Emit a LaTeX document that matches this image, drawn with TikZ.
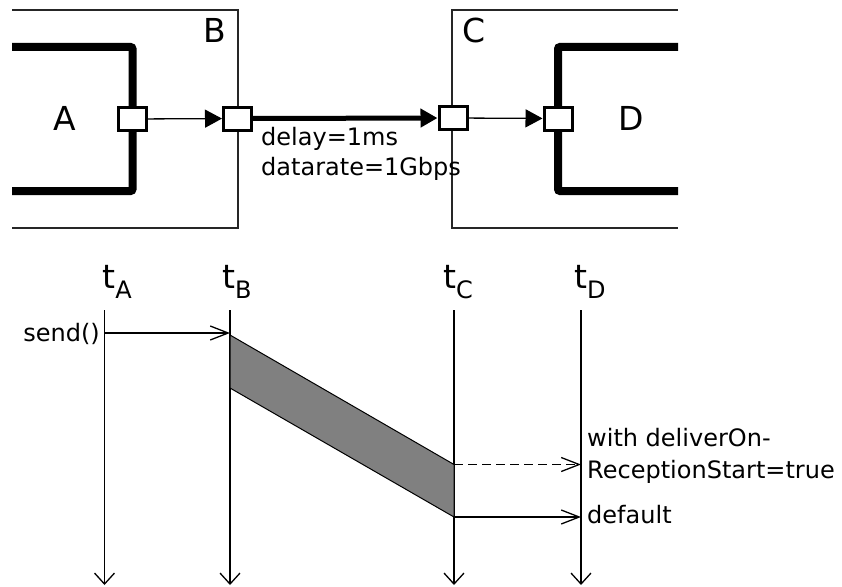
\documentclass[tikz,border=0pt]{standalone}
\usepackage{fontspec}
\setmainfont{DejaVu Sans}
\usetikzlibrary{arrows.meta,positioning,calc}
\newcommand{\lblbig}{\fontsize{33}{40}\selectfont}
\newcommand{\lblsmall}{\fontsize{24}{31}\selectfont}
\tikzset{
  port/.style={draw,line width=3pt,fill=white,minimum width=28pt,minimum height=23pt,inner sep=0pt},
  modwall/.style={line width=8pt,rounded corners=2pt},
  boxwall/.style={line width=1.3pt,draw=black!85},
  link/.style={line width=1.3pt,-{Triangle[length=17pt,width=18pt]}},
  msg/.style={line width=1.3pt,-{Straight Barb[length=18pt,width=14pt]}},
  timeline/.style={line width=1.3pt,-{Straight Barb[length=11pt,width=20pt]}},
}

\begin{document}
\begin{tikzpicture}[x=1pt,y=-1pt]
\useasboundingbox (0,0) rectangle (842,586);
% compound modules B and C
\draw[boxwall] (12,10) -- (238,10) -- (238,228) -- (12,228);
\draw[boxwall] (678,10) -- (452,10) -- (452,228) -- (678,228);
\node[font=\lblbig,anchor=base,inner sep=0] (lblB) at (215,43) {B};
\node[font=\lblbig,anchor=base,inner sep=0] (lblC) at (474,43) {C};
% simple modules A and D
\draw[modwall] (12,47) -- (132.5,47) -- (132.5,191) -- (12,191);
\draw[modwall] (678,47) -- (558,47) -- (558,191) -- (678,191);
\node[font=\lblbig,anchor=base,inner sep=0] (lblA) at (65,130) {A};
\node[font=\lblbig,anchor=base,inner sep=0] (lblD) at (631.5,130) {D};
% gates
\node[port] (pA) at (132.5,119) {};
\node[port] (pB) at (237.5,118.5) {};
\node[port] (pC) at (453,118) {};
\node[port] (pD) at (558,118.5) {};
\draw[link] (pA) -- (pB);
\draw[link,line width=5pt] (pB) -- (pC);
\draw[link] (pC) -- (pD);
\node[font=\lblsmall,anchor=base west,inner sep=0] (chdelay) at (261,145) {delay=1ms};
\node[font=\lblsmall,anchor=base west,inner sep=0] (chrate) at (261,175) {datarate=1Gbps};

% time lines
\foreach \n/\x/\lx in {A/104.5/117,B/230/237,C/454/458,D/581/590}{
  \coordinate (t\n top) at (\x,310);
  \coordinate (t\n end) at (\x,585);
  \draw[timeline] (t\n top) -- (t\n end);
  \node[font=\lblbig,anchor=base,inner sep=0] (t\n lbl) at (\lx,288) {t\raisebox{-10pt}{\lblsmall\n}};
}
\coordinate (sendA) at (104.5,333);
\coordinate (sendB) at (230,333);
\coordinate (rxB1) at (230,335);
\coordinate (rxB2) at (230,388);
\coordinate (rxC1) at (454,464.5);
\coordinate (rxC2) at (454,517);
\coordinate (rxD1) at (581,464.5);
\coordinate (rxD2) at (581,517);
\node[font=\lblsmall,anchor=base east,inner sep=0] (sendlbl) at (100,341) {send()};
\draw[msg] (sendA) -- (sendB);
% transmission duration
\filldraw[fill=black!50,draw=black,line width=1pt] (rxB1) -- (rxC1) -- (rxC2) -- (rxB2) -- cycle;
\draw[msg,dash pattern=on 9pt off 5pt] (rxC1) -- (rxD1);
\draw[msg] (rxC2) -- (rxD2);
\node[font=\lblsmall,anchor=base west,inner sep=0] (lblwith) at (587,446) {with deliverOn-};
\node[font=\lblsmall,anchor=base west,inner sep=0] (lblrecv) at (587,478) {ReceptionStart=true};
\node[font=\lblsmall,anchor=base west,inner sep=0] (lbldef) at (587,523) {default};
\end{tikzpicture}
\end{document}
